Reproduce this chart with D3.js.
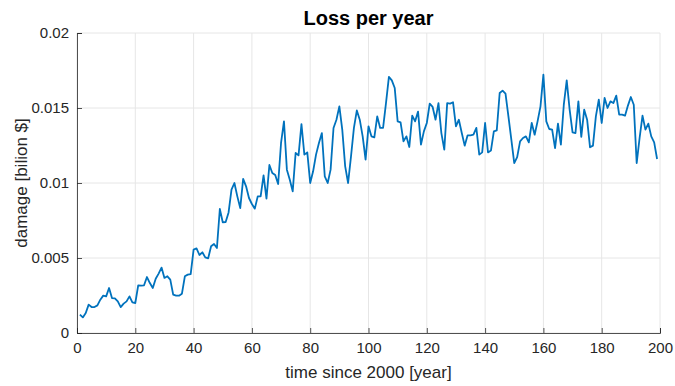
<!DOCTYPE html>
<html>
<head>
<meta charset="utf-8">
<script src="https://cdn.jsdelivr.net/npm/d3@7"></script>
<style>
  body { margin: 0; background: #fff; }
  svg { display: block; font-family: "Liberation Sans", Arial, sans-serif; }
</style>
</head>
<body>
<div id="chart"></div>
<script>
// dados (ano 1..199)
var years = d3.range(1, 200);
var damage = [
  0.00122, 0.00104, 0.00133, 0.00189, 0.00173, 0.00173, 0.00184, 0.00222, 0.00249, 0.00244,
  0.00300, 0.00233, 0.00231, 0.00211, 0.00173, 0.00196, 0.00211, 0.00244, 0.00204, 0.00200,
  0.00318, 0.00316, 0.00318, 0.00373, 0.00333, 0.00300, 0.00362, 0.00396, 0.00436, 0.00367,
  0.00378, 0.00356, 0.00256, 0.00249, 0.00249, 0.00262, 0.00378, 0.00389, 0.00393, 0.00556,
  0.00564, 0.00520, 0.00538, 0.00504, 0.00498, 0.00578, 0.00593, 0.00567, 0.00827, 0.00738,
  0.00740, 0.00804, 0.00956, 0.01000, 0.00911, 0.00833, 0.01027, 0.00978, 0.00900, 0.00860,
  0.00829, 0.00911, 0.00911, 0.01051, 0.00896, 0.01120, 0.01067, 0.01053, 0.00993, 0.01267,
  0.01411, 0.01089, 0.01022, 0.00944, 0.01200, 0.01184, 0.01393, 0.01189, 0.01204, 0.01000,
  0.01078, 0.01189, 0.01267, 0.01333, 0.01044, 0.01000, 0.01089, 0.01367, 0.01422, 0.01511,
  0.01356, 0.01111, 0.01000, 0.01178, 0.01367, 0.01484, 0.01422, 0.01311, 0.01156, 0.01378,
  0.01311, 0.01304, 0.01444, 0.01367, 0.01367, 0.01533, 0.01707, 0.01684, 0.01633, 0.01411,
  0.01404, 0.01278, 0.01311, 0.01240, 0.01449, 0.01411, 0.01476, 0.01256, 0.01344, 0.01400,
  0.01529, 0.01507, 0.01422, 0.01533, 0.01333, 0.01222, 0.01533, 0.01529, 0.01538, 0.01378,
  0.01422, 0.01333, 0.01249, 0.01318, 0.01318, 0.01322, 0.01367, 0.01189, 0.01204, 0.01400,
  0.01204, 0.01216, 0.01344, 0.01351, 0.01600, 0.01616, 0.01596, 0.01444, 0.01289, 0.01133,
  0.01173, 0.01278, 0.01300, 0.01311, 0.01271, 0.01400, 0.01322, 0.01411, 0.01511, 0.01722,
  0.01411, 0.01360, 0.01356, 0.01233, 0.01396, 0.01256, 0.01522, 0.01684, 0.01489, 0.01338,
  0.01333, 0.01544, 0.01307, 0.01489, 0.01422, 0.01238, 0.01249, 0.01444, 0.01556, 0.01400,
  0.01567, 0.01500, 0.01544, 0.01533, 0.01582, 0.01456, 0.01456, 0.01449, 0.01516, 0.01573,
  0.01522, 0.01133, 0.01300, 0.01449, 0.01356, 0.01396, 0.01311, 0.01271, 0.01160
];
var xTicks = [0, 20, 40, 60, 80, 100, 120, 140, 160, 180, 200];
var yTicks = [0, 0.005, 0.01, 0.015, 0.02];
var yTickLabels = ["0", "0.005", "0.01", "0.015", "0.02"];

var width = 675, height = 386;
var margin = {top: 33, right: 15, bottom: 53, left: 77};

var svg = d3.select("#chart").append("svg")
    .attr("width", width)
    .attr("height", height);

var x = d3.scaleLinear().domain([0, 200]).range([margin.left, width - margin.right]);
var y = d3.scaleLinear().domain([0, 0.02]).range([height - margin.bottom, margin.top]);

// grade
svg.append("g")
    .selectAll("line.gx")
    .data(xTicks)
    .enter().append("line")
    .attr("x1", function(d) { return x(d); })
    .attr("x2", function(d) { return x(d); })
    .attr("y1", y(0))
    .attr("y2", y(0.02))
    .attr("stroke", "#e6e6e6")
    .attr("stroke-width", 1);
svg.append("g")
    .selectAll("line.gy")
    .data(yTicks)
    .enter().append("line")
    .attr("x1", x(0))
    .attr("x2", x(200))
    .attr("y1", function(d) { return y(d); })
    .attr("y2", function(d) { return y(d); })
    .attr("stroke", "#e6e6e6")
    .attr("stroke-width", 1);

// eixos
var xAxis = d3.axisBottom(x).tickValues(xTicks).tickSize(-5).tickPadding(9);
var yAxis = d3.axisLeft(y).tickValues(yTicks).tickSize(-5).tickPadding(8)
    .tickFormat(function(d, i) { return yTickLabels[i]; });

var gx = svg.append("g")
    .attr("transform", "translate(0," + y(0) + ")")
    .call(xAxis);
var gy = svg.append("g")
    .attr("transform", "translate(" + x(0) + ",0)")
    .call(yAxis);

[gx, gy].forEach(function(g) {
    g.select(".domain").attr("stroke", "#262626").attr("stroke-width", 0.8);
    g.selectAll(".tick line").attr("stroke", "#262626").attr("stroke-width", 0.8);
    g.selectAll(".tick text")
        .attr("fill", "#262626")
        .style("font-size", "15px")
        .style("font-family", "'Liberation Sans', Arial, sans-serif");
});
gx.selectAll(".tick text").attr("dy", "0.75em");

// linha
var line = d3.line()
    .x(function(d, i) { return x(years[i]); })
    .y(function(d) { return y(d); });

svg.append("path")
    .datum(damage)
    .attr("fill", "none")
    .attr("stroke", "#0072BD")
    .attr("stroke-width", 1.8)
    .attr("stroke-linejoin", "round")
    .attr("d", line);

// textos
svg.append("text")
    .attr("x", (x(0) + x(200)) / 2)
    .attr("y", 25)
    .attr("text-anchor", "middle")
    .style("font-size", "20px")
    .style("font-weight", "bold")
    .attr("fill", "#000")
    .text("Loss per year");

svg.append("text")
    .attr("x", (x(0) + x(200)) / 2)
    .attr("y", 378)
    .attr("text-anchor", "middle")
    .style("font-size", "17px")
    .attr("fill", "#262626")
    .text("time since 2000 [year]");

svg.append("text")
    .attr("transform", "translate(27," + ((y(0) + y(0.02)) / 2) + ") rotate(-90)")
    .attr("text-anchor", "middle")
    .style("font-size", "17px")
    .attr("fill", "#262626")
    .text("damage [bilion $]");
</script>
</body>
</html>
